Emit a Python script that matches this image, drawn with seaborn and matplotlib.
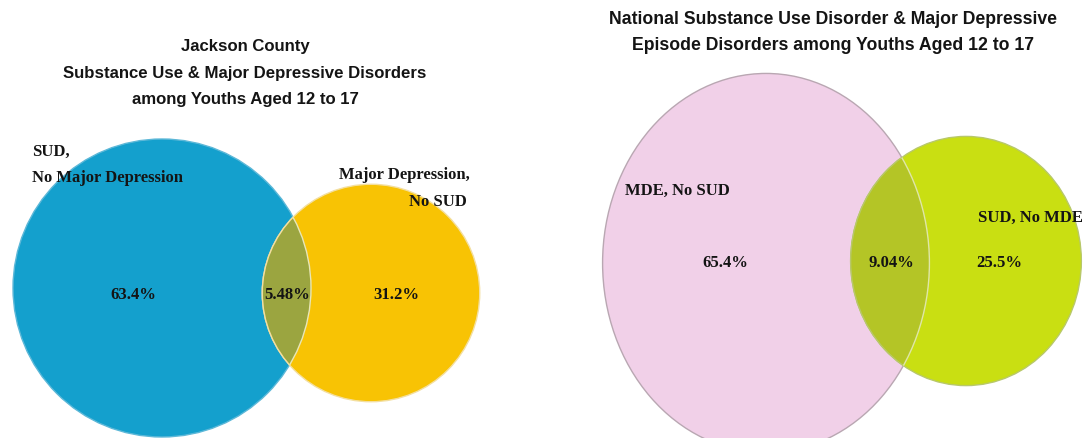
import numpy as np
import matplotlib
matplotlib.use("Agg")
import matplotlib.pyplot as plt
from matplotlib.patches import Ellipse
import seaborn as sns

# Jackson County: share of youths in each region of the diagram (%)
jackson_regions = ["SUD only", "Both", "MDE only"]
jackson_values = [63.4, 5.48, 31.2]

# National figures (%)
national_regions = ["MDE only", "Both", "SUD only"]
national_values = [65.4, 9.04, 25.5]

jackson_title = ["Jackson County",
                 "Substance Use & Major Depressive Disorders",
                 "among Youths Aged 12 to 17"]
national_title = ["National Substance Use Disorder & Major Depressive",
                  "Episode Disorders among Youths Aged 12 to 17"]

sns.set_theme(style="white")
plt.rcParams["font.family"] = ["Liberation Sans", "DejaVu Sans"]

W, H = 1083, 439
fig = plt.figure(figsize=(W / 100, H / 100), dpi=100)
ax = fig.add_axes([0, 0, 1, 1])
ax.set_xlim(0, W)
ax.set_ylim(H, 0)
ax.axis("off")

SERIF = ["Liberation Serif", "DejaVu Serif"]


def set_shape(center, total, scale, stretch, color, edge, lw, z):
    # area of each set is proportional to its total share
    r = scale * np.sqrt(total)
    w = 2 * r / np.sqrt(stretch)
    h = 2 * r * np.sqrt(stretch)
    e = Ellipse(center, w, h, facecolor=color, edgecolor=edge, lw=lw, zorder=z)
    ax.add_patch(e)
    return e


def venn(values, centers, scale, stretch, colors, edges, lens_color):
    a_only, both, b_only = values
    big = set_shape(centers[0], a_only + both, scale, stretch[0], colors[0], edges[0], 1.0, 1)
    small = set_shape(centers[1], b_only + both, scale, stretch[1], colors[1], edges[1], 1.0, 2)
    # overlap region: the second set clipped to the first
    r = scale * np.sqrt(b_only + both)
    lens = Ellipse(centers[1], 2 * r / np.sqrt(stretch[1]), 2 * r * np.sqrt(stretch[1]),
                   facecolor=lens_color, edgecolor=edges[1], lw=1.0, zorder=3)
    ax.add_patch(lens)
    lens.set_clip_path(big)
    outline = Ellipse(centers[0], big.width, big.height, facecolor="none",
                      edgecolor=edges[2], lw=1.0, zorder=4)
    ax.add_patch(outline)
    outline.set_clip_path(small)


# Jackson County diagram
venn(jackson_values, [(162, 289), (371, 294)], 149 / np.sqrt(68.88), (1.0, 1.0),
     ["#14a0cd", "#f8c304"], ["#5db8d8", "#f3dfa0", "#e8e6b8"], "#9ba540")

# National diagram
venn(national_values, [(766, 264), (966, 262)], 176 / np.sqrt(74.44), (1.16, 1.08),
     ["#f1d0e8", "#c9df12"], ["#b9a7b2", "#b8c86a", "#dfe6a8"], "#b4c526")

# titles
for i, line in enumerate(jackson_title):
    ax.text(245, 47 + 26.5 * i, line, ha="center", va="center",
            fontsize=12.1, fontweight="bold", color="#141414", zorder=10)
for i, line in enumerate(national_title):
    ax.text(833, 20 + 26 * i, line, ha="center", va="center",
            fontsize=12.7, fontweight="bold", color="#141414", zorder=10)

lab = dict(family=SERIF, fontweight="bold", fontsize=12, color="#141414",
           va="center", zorder=10)

# Jackson labels
ax.text(32, 152, "SUD,", ha="left", **lab)
ax.text(32, 178, "No Major Depression", ha="left", **lab)
ax.text(470, 175, "Major Depression,", ha="right", **lab)
ax.text(467, 202, "No SUD", ha="right", **lab)
for x, v in zip([133, 287, 396], jackson_values):
    ax.text(x, 295, f"{v:g}%", ha="center", **lab)

# National labels
ax.text(625, 191, "MDE, No SUD", ha="left", **lab)
ax.text(978, 218, "SUD, No MDE", ha="left", **lab)
for x, v in zip([725, 891, 999], national_values):
    ax.text(x, 263, f"{v:g}%", ha="center", **lab)

fig.savefig("out.png", dpi=100, facecolor="white")
